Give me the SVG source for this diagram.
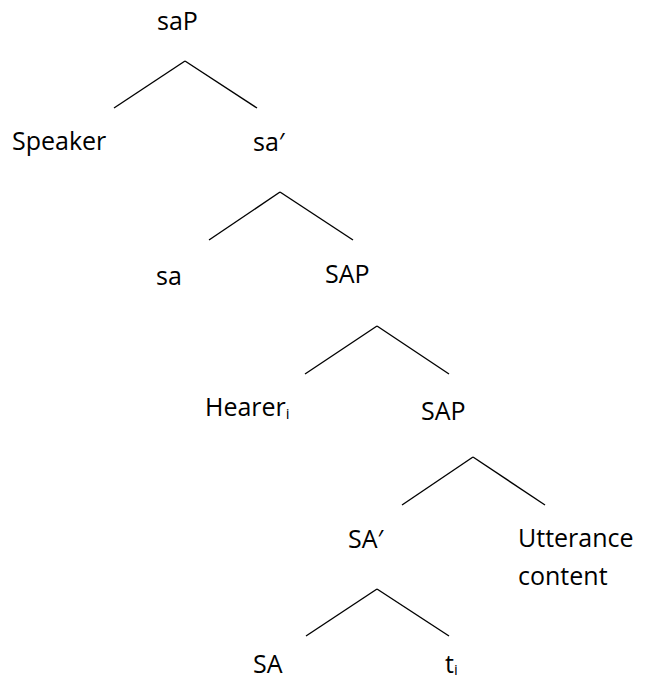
<svg xmlns="http://www.w3.org/2000/svg" width="650" height="680" viewBox="0 0 650 680">
<style>
text{font-family:"Open Sans","Liberation Sans",sans-serif;font-size:25px;fill:#000}
.sub{font-size:15px}
line{stroke:#000;stroke-width:1.4;fill:none}
</style>
<rect width="650" height="680" fill="#fff"/>
<g id="connectors">
<line x1="185" y1="61" x2="114" y2="108"/><line x1="185" y1="61" x2="257" y2="108"/>
<line x1="280" y1="192" x2="209" y2="240"/><line x1="280" y1="192" x2="353" y2="240"/>
<line x1="377" y1="326" x2="305" y2="374"/><line x1="377" y1="326" x2="449" y2="374"/>
<line x1="473" y1="457" x2="402" y2="505"/><line x1="473" y1="457" x2="545" y2="505"/>
<line x1="377" y1="589" x2="306" y2="636"/><line x1="377" y1="589" x2="449" y2="636"/>
</g>
<g id="saP"><text x="157" y="30">saP</text></g>
<g id="speaker"><text x="12" y="150">Speaker</text></g>
<g id="sa-bar"><text x="253" y="151">sa′</text></g>
<g id="sa"><text x="156" y="285">sa</text></g>
<g id="SAP1"><text x="325" y="283">SAP</text></g>
<g id="hearer"><text x="205" y="416">Hearer<tspan class="sub" dy="3">i</tspan></text></g>
<g id="SAP2"><text x="421" y="420">SAP</text></g>
<g id="SA-bar"><text x="348" y="548">SA′</text></g>
<g id="utterance"><text x="518" y="547">Utterance</text><text x="518" y="585">content</text></g>
<g id="SA"><text x="253" y="673">SA</text></g>
<g id="t"><text x="445" y="673">t<tspan class="sub" dy="2">i</tspan></text></g>
</svg>
